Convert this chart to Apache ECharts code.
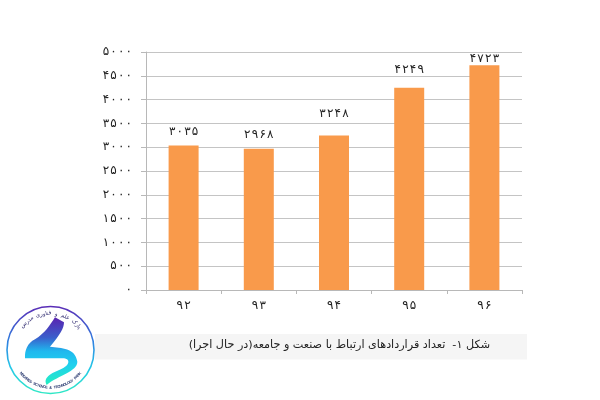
<!DOCTYPE html>
<html><head><meta charset="utf-8">
<style>html,body{margin:0;padding:0;background:#fff}#c{width:600px;height:400px}</style>
<script src="https://cdn.jsdelivr.net/npm/echarts@6/dist/echarts.min.js"></script>
</head><body><div id="c"></div>
<script>
const categories = ['۹۲','۹۳','۹۴','۹۵','۹۶'];
const values = [3035, 2968, 3248, 4249, 4723];
const valueLabels = ['۳۰۳۵','۲۹۶۸','۳۲۴۸','۴۲۴۹','۴۷۲۳'];
const labelGaps = [8, 8, 16, 12, 0];
const tickLabels = ['۰','۵۰۰','۱۰۰۰','۱۵۰۰','۲۰۰۰','۲۵۰۰','۳۰۰۰','۳۵۰۰','۴۰۰۰','۴۵۰۰','۵۰۰۰'];
const caption = 'شکل ۱-  تعداد قراردادهای ارتباط با صنعت و جامعه(در حال اجرا)';
const logoWords = ['پارک','علم','و','فناوری','مدرس'];
const logoFoot = 'MODARES SCIENCE & TECHNOLOGY PARK';

const spaced = s => s.split('').join('\u200a');
const FONT = '"DejaVu Sans"';
const chart = echarts.init(document.getElementById('c'), null, {renderer:'canvas'});

const ribbonPath = 'M165 82 L192 97 C192 115 180 135 150 170 C185 175 225 172 232 215 C232 245 175 255 140 285 C135 275 135 268 145 258 C165 240 205 235 205 215 C205 207 195 205 185 205 L75 205 C74 180 82 160 105 148 C135 130 150 105 165 82 Z';
echarts.graphic.registerShape('logoRibbon', echarts.graphic.extendPath(ribbonPath, {}));

const cx = 50.5, cy = 350, R = 43.5;
const logo = [];
const wordAngles = [45, 24, 9, -11, -40];
logoWords.forEach((w,i)=>{
  const a = wordAngles[i]*Math.PI/180, r = 36.5;
  logo.push({type:'text', z:22, x:cx+r*Math.sin(a), y:cy-r*Math.cos(a), rotation:-a,
    style:{text:w, font:'5.6px '+FONT, fill:'#2f2a70', align:'center', verticalAlign:'middle'}});
});
logoFoot.split('').forEach((ch,i,arr)=>{
  const a = (i-(arr.length-1)/2)*3.2*Math.PI/180, r = 37.5;
  logo.push({type:'text', z:22, x:cx+r*Math.sin(a), y:cy+r*Math.cos(a), rotation:a,
    style:{text:ch, font:'bold 3.8px "Liberation Sans"', fill:'#2a3a70', align:'center', verticalAlign:'middle'}});
});

chart.setOption({
  animation:false,
  backgroundColor:'#fff',
  grid:{left:146, right:78, top:52, bottom:110, containLabel:false},
  xAxis:{type:'category', data:categories,
    axisLine:{lineStyle:{color:'#b8b8b8',width:1}},
    axisTick:{show:true,alignWithLabel:false,length:4,lineStyle:{color:'#b8b8b8'}},
    axisLabel:{color:'#222',fontFamily:FONT,fontSize:12,margin:10,formatter:v=>spaced(v)}},
  yAxis:{type:'value', min:0, max:5000, interval:500,
    axisLine:{show:true,lineStyle:{color:'#b8b8b8',width:1}},
    axisTick:{show:true,length:5,lineStyle:{color:'#b8b8b8'}},
    splitLine:{lineStyle:{color:'#c4c4c4',width:1}},
    axisLabel:{color:'#222',fontFamily:FONT,fontSize:12,margin:14,
      formatter:v=>spaced(tickLabels[Math.round(v/500)])}},
  series:[{type:'bar', barWidth:30,
    data:values.map((v,i)=>({value:v,label:{distance:labelGaps[i]}})),
    itemStyle:{color:'#F99A4B'},
    label:{show:true,position:'top',color:'#222',fontFamily:FONT,fontSize:12,
      formatter:p=>spaced(valueLabels[p.dataIndex])}}],
  graphic:[
    {type:'rect', z:10, shape:{x:95,y:334,width:432,height:25.5}, style:{fill:'#f5f5f5'}},
    {type:'text', z:11, x:490, y:345, style:{text:caption, font:'11.2px '+FONT, fill:'#222', align:'right', verticalAlign:'middle'}},
    {type:'circle', z:20, shape:{cx,cy,r:R}, style:{fill:'#fff', lineWidth:1.6,
      stroke:new echarts.graphic.LinearGradient(0,0,0,1,[{offset:0,color:'#5b2bb5'},{offset:.4,color:'#2f7fe0'},{offset:.7,color:'#25c8e8'},{offset:1,color:'#2fe8c4'}])}},
    {type:'logoRibbon', z:21, x:0, y:290, scaleX:1/3, scaleY:1/3,
      style:{fill:new echarts.graphic.LinearGradient(0,0,0,1,[{offset:0,color:'#5a22b0'},{offset:.3,color:'#3a5fcc'},{offset:.5,color:'#1fb8ee'},{offset:.7,color:'#20d0ee'},{offset:1,color:'#25eec0'}])}},
    ...logo
  ]
});
</script></body></html>
